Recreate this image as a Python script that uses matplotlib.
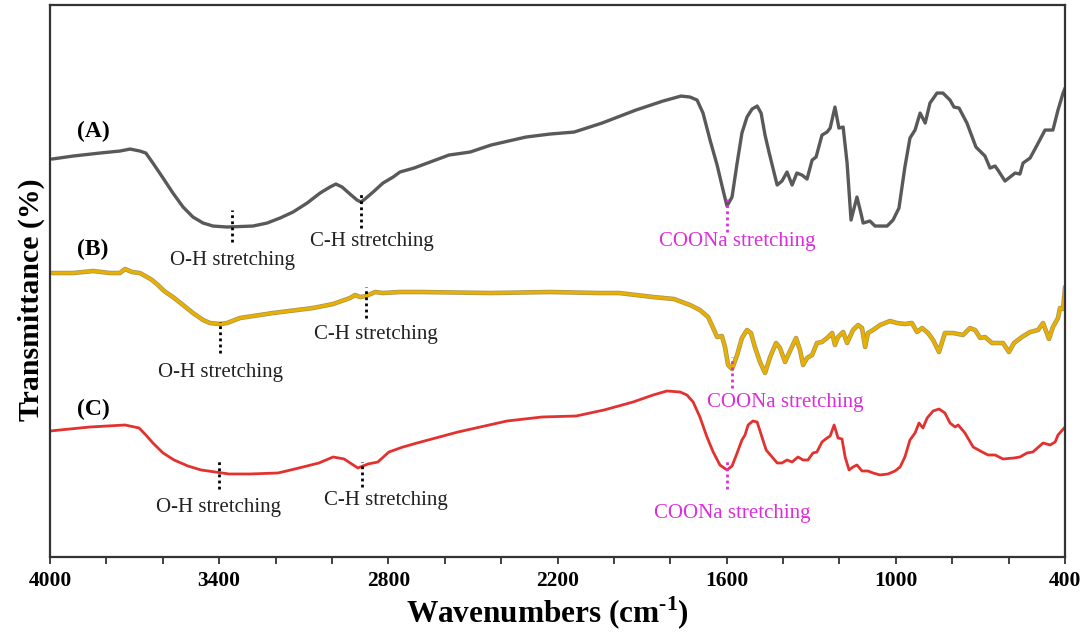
import matplotlib
matplotlib.use('Agg')
import matplotlib.pyplot as plt
import matplotlib.patheffects as pe
from matplotlib.ticker import MultipleLocator

plt.rcParams['font.family'] = ['Liberation Serif', 'DejaVu Serif']
plt.rcParams['mathtext.fontset'] = 'custom'
plt.rcParams['mathtext.rm'] = 'Liberation Serif:bold'
plt.rcParams['mathtext.bf'] = 'Liberation Serif:bold'

# (wavenumber cm-1, offset transmittance a.u.)
spec_a = [(3993, 398), (3918, 401), (3823, 404), (3752, 406), (3716, 408), (3681, 406), (3660, 404),
          (3635, 394), (3599, 379), (3564, 364), (3528, 350), (3493, 340), (3457, 334), (3422, 331),
          (3372, 330), (3280, 331), (3230, 334), (3184, 339), (3138, 345), (3088, 354), (3042, 364),
          (3007, 370), (2986, 373), (2964, 370), (2936, 363), (2911, 357), (2897, 355), (2883, 358),
          (2854, 365), (2819, 374), (2783, 380), (2759, 385), (2709, 389), (2585, 402), (2510, 405),
          (2436, 412), (2312, 420), (2227, 423), (2141, 425), (2042, 434), (1922, 447), (1826, 456),
          (1762, 461), (1730, 460), (1705, 457), (1684, 444), (1659, 417), (1634, 392), (1613, 367),
          (1599, 351), (1581, 360), (1563, 394), (1546, 424), (1528, 440), (1510, 448), (1492, 451),
          (1478, 444), (1464, 422), (1450, 405), (1436, 389), (1421, 372), (1404, 376), (1386, 385),
          (1368, 372), (1351, 384), (1333, 382), (1315, 378), (1297, 397), (1283, 400), (1262, 422),
          (1244, 425), (1233, 429), (1216, 450), (1202, 429), (1187, 430), (1173, 394), (1159, 337),
          (1138, 360), (1124, 344), (1116, 334), (1092, 336), (1074, 331), (1031, 331), (1010, 337),
          (989, 349), (968, 390), (950, 419), (932, 427), (914, 444), (896, 434), (879, 454),
          (854, 464), (833, 464), (808, 457), (794, 450), (776, 449), (748, 434), (716, 410),
          (684, 401), (666, 389), (648, 391), (638, 387), (613, 376), (577, 384), (560, 383),
          (549, 394), (524, 399), (499, 412), (471, 427), (443, 427), (425, 447), (407, 464), (400, 469)]

spec_b = [(3993, 284), (3918, 284), (3847, 286), (3787, 284), (3752, 284), (3734, 288), (3709, 285),
          (3681, 284), (3656, 280), (3638, 277), (3617, 272), (3599, 267), (3585, 264), (3564, 260),
          (3528, 252), (3493, 244), (3457, 237), (3433, 234), (3397, 233), (3372, 234), (3326, 239),
          (3209, 244), (3067, 249), (2996, 253), (2936, 259), (2918, 262), (2900, 260), (2879, 261),
          (2847, 265), (2819, 264), (2759, 265), (2684, 265), (2436, 264), (2227, 265), (2049, 264),
          (1982, 264), (1861, 260), (1787, 258), (1730, 252), (1695, 247), (1666, 240), (1648, 229),
          (1634, 220), (1617, 221), (1606, 210), (1595, 192), (1581, 188), (1563, 202), (1546, 219),
          (1528, 227), (1514, 224), (1500, 210), (1482, 195), (1464, 184), (1446, 200), (1425, 214),
          (1411, 209), (1393, 195), (1382, 202), (1354, 219), (1340, 207), (1329, 192), (1315, 199),
          (1297, 202), (1280, 214), (1262, 215), (1244, 219), (1226, 224), (1216, 212), (1205, 220),
          (1187, 225), (1173, 214), (1152, 227), (1134, 232), (1120, 229), (1109, 210), (1099, 224),
          (1081, 227), (1056, 232), (1021, 236), (996, 234), (968, 233), (943, 234), (925, 225),
          (907, 229), (886, 224), (868, 217), (847, 205), (826, 224), (797, 224), (762, 222),
          (737, 229), (719, 227), (701, 219), (684, 220), (659, 214), (620, 214), (599, 205),
          (581, 214), (553, 220), (524, 225), (496, 227), (478, 234), (457, 218), (443, 230),
          (425, 239), (418, 249), (407, 248), (400, 270)]

spec_c = [(4000, 126), (3858, 130), (3734, 132), (3684, 129), (3660, 122), (3635, 114), (3599, 104),
          (3560, 97), (3511, 91), (3464, 87), (3365, 83), (3291, 83), (3191, 84), (3117, 89),
          (3046, 94), (2996, 100), (2957, 98), (2908, 89), (2872, 93), (2837, 95), (2798, 105),
          (2748, 110), (2698, 114), (2553, 125), (2379, 136), (2255, 140), (2134, 141), (2035, 147),
          (1932, 155), (1861, 162), (1812, 166), (1765, 165), (1741, 162), (1719, 155), (1695, 140),
          (1670, 120), (1648, 105), (1624, 92), (1599, 87), (1581, 91), (1563, 104), (1546, 117),
          (1535, 122), (1524, 132), (1507, 136), (1492, 135), (1475, 120), (1460, 107), (1439, 100),
          (1421, 94), (1404, 94), (1386, 97), (1368, 95), (1347, 100), (1329, 97), (1312, 97),
          (1294, 104), (1280, 105), (1262, 115), (1244, 119), (1233, 121), (1219, 132), (1205, 119),
          (1191, 118), (1180, 100), (1166, 87), (1152, 90), (1138, 92), (1120, 86), (1099, 86),
          (1081, 84), (1056, 82), (1028, 83), (1003, 86), (985, 90), (968, 100), (950, 117),
          (932, 124), (918, 134), (904, 129), (889, 139), (868, 146), (847, 148), (826, 144),
          (808, 134), (790, 130), (779, 132), (755, 124), (726, 110), (694, 105), (673, 102),
          (648, 102), (620, 98), (581, 99), (560, 100), (535, 104), (514, 105), (478, 114),
          (453, 112), (435, 115), (425, 122), (400, 130)]

# band markers: (wavenumber, y from, y to)
oh_marks = [(3355, 315, 347), (3397, 204, 235), (3401, 68, 97)]
ch_marks = [(2897, 329, 364), (2879, 239, 270), (2893, 70, 95)]
coona_marks = [(1599, 325, 358), (1581, 169, 200), (1599, 68, 98)]

# band labels: (text, wavenumber, y)
black_labels = [('O-H stretching', 3354, 297), ('C-H stretching', 2858, 316),
                ('O-H stretching', 3397, 185), ('C-H stretching', 2844, 223),
                ('O-H stretching', 3401, 49), ('C-H stretching', 2808, 56)]
pink_labels = [('COONa stretching', 1563, 316), ('COONa stretching', 1393, 154),
               ('COONa stretching', 1581, 43)]
panel_labels = [('(A)', 426), ('(B)', 308), ('(C)', 148)]

xtick_vals = [4000, 3400, 2800, 2200, 1600, 1000, 400]

magenta = '#DC2EDC'

fig = plt.figure(figsize=(10.89, 6.34), dpi=100)
ax = fig.add_axes([0.0459, 0.1215, 0.9321, 0.8705])

line_kw = dict(solid_joinstyle='round', solid_capstyle='round')
ax.plot([p[0] for p in spec_a], [p[1] for p in spec_a], color='#595959', lw=2.4, **line_kw)
ax.plot([p[0] for p in spec_b], [p[1] for p in spec_b], color='#E8B000', lw=2.2,
        path_effects=[pe.Stroke(linewidth=3.3, foreground='#a8955a'), pe.Normal()], **line_kw)
ax.plot([p[0] for p in spec_c], [p[1] for p in spec_c], color='#E2322F', lw=2.0, **line_kw)

for w, y0, y1 in oh_marks + ch_marks:
    ax.vlines(w, y0, y1, colors='black', linestyles=(0, (1, 1.2)), lw=2)
for w, y0, y1 in coona_marks:
    ax.vlines(w, y0, y1, colors=magenta, linestyles=(0, (1, 1.2)), lw=2)

for txt, w, y in black_labels:
    ax.text(w, y, txt, ha='center', va='center', fontsize=15, color='#222222')
for txt, w, y in pink_labels:
    ax.text(w, y, txt, ha='center', va='center', fontsize=15, color=magenta)
for txt, y in panel_labels:
    ax.text(3905, y, txt, ha='left', va='center', fontsize=17, fontweight='bold')

ax.set_xlim(4000, 400)
ax.set_ylim(0, 552)
ax.set_xticks(xtick_vals)
ax.xaxis.set_minor_locator(MultipleLocator(200))
ax.tick_params(axis='x', which='both', direction='out', length=5, width=1.3, color='#333333')
ax.tick_params(axis='x', which='major', labelsize=15.5, pad=5)
for lab in ax.get_xticklabels():
    lab.set_fontweight('bold')
ax.set_yticks([])
for s in ax.spines.values():
    s.set_linewidth(1.6)
    s.set_color('#333333')

ax.set_xlabel(r'Wavenumbers (cm$^{\text{-}1}$)', fontsize=22.5, fontweight='bold')
ax.xaxis.set_label_coords(0.4897, -0.068)
ax.set_ylabel('Transmittance (%)', fontsize=21.5, fontweight='bold')
ax.yaxis.set_label_coords(-0.005, 0.4656)

fig.savefig('out.png', dpi=100)
